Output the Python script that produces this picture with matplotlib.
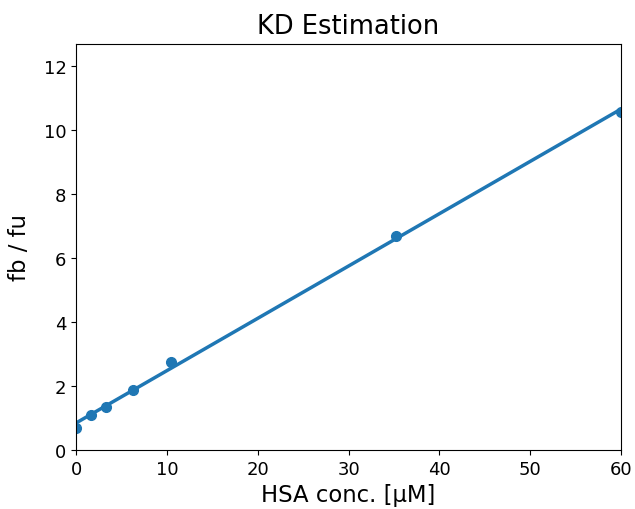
import numpy as np
import matplotlib.pyplot as plt

hsa_conc = [0.0, 1.65, 3.3, 6.3, 10.4, 35.2, 60.0]
fb_fu = [0.69, 1.09, 1.34, 1.88, 2.76, 6.68, 10.58]

slope, intercept = np.polyfit(hsa_conc, fb_fu, 1)
x_fit = np.array([min(hsa_conc), max(hsa_conc)])

fig = plt.figure(figsize=(6.35, 5.1), dpi=100)
ax = fig.add_axes([0.12, 0.116, 0.858, 0.796])
ax.plot(hsa_conc, fb_fu, "o", color="#1f77b4", markersize=7)
ax.plot(x_fit, slope * x_fit + intercept, color="#1f77b4", linewidth=2.5)
ax.set_xlim(0, 60)
ax.set_ylim(0, 12.7)
ax.set_title("KD Estimation", fontsize=18.5, pad=8)
ax.set_xlabel("HSA conc. [µM]", fontsize=16.4)
ax.set_ylabel("fb / fu", fontsize=16.4, labelpad=9)
ax.tick_params(labelsize=13)
fig.savefig("out.png", dpi=100)
